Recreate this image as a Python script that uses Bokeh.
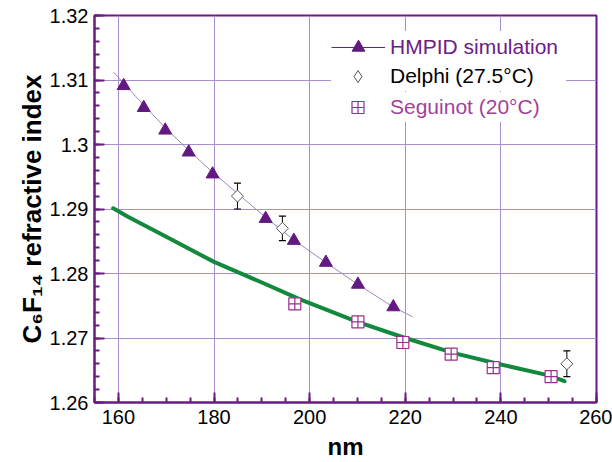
import math
from bokeh.plotting import figure
from bokeh.models import Range1d, FixedTicker, Legend, LegendItem
from bokeh.embed import file_html
from bokeh.resources import INLINE

# ---------------- data ----------------
# HMPID simulation (triangles) and the thin fitted curve through them
hmpid_nm = [161.1, 165.3, 169.8, 174.7, 179.7, 190.8, 196.7, 203.4, 210.1, 217.5]
hmpid_n = [1.3091, 1.3057, 1.3022, 1.2988, 1.2954, 1.2885, 1.2851, 1.2817, 1.2783, 1.2748]
hmpid_fit_nm = [159.0, 161.1, 165.3, 169.8, 174.7, 179.7, 190.8, 196.7, 203.4, 210.1, 217.5, 221.5]
hmpid_fit_n = [1.3112, 1.3095, 1.3061, 1.3026, 1.2991, 1.2957, 1.2887, 1.2852, 1.2817, 1.2783, 1.2748, 1.2733]

# Delphi (27.5 C) with error bars
delphi_nm = [184.9, 194.3, 253.8]
delphi_n = [1.2920, 1.2870, 1.2660]
delphi_err = [0.0020, 0.0019, 0.0020]

# Seguinot (20 C)
seguinot_nm = [196.9, 210.1, 219.5, 229.6, 238.4, 250.5]
seguinot_n = [1.2753, 1.2725, 1.2693, 1.2675, 1.2654, 1.2640]

# thick green curve
green_nm = [158.9, 162.0, 170.0, 180.0, 190.0, 198.0, 210.0, 220.0, 230.0, 240.0, 250.0, 253.3]
green_n = [1.2901, 1.2888, 1.2857, 1.2818, 1.2786, 1.2760, 1.2725, 1.2700, 1.2677, 1.2659, 1.2642, 1.2633]

# axes
x_ticks = [160, 180, 200, 220, 240, 260]
x_minor = [155 + 5 * i for i in range(22)]
y_ticks = [1.26, 1.27, 1.28, 1.29, 1.30, 1.31, 1.32]
y_labels = ["1.26", "1.27", "1.28", "1.29", "1.3", "1.31", "1.32"]
y_minor = [round(1.26 + 0.002 * i, 3) for i in range(31)]

# ---------------- style ----------------
FONT = "Liberation Sans"
AXIS_PURPLE = "#6a1b80"
GRID_PURPLE = "#a68fcb"
TRI_PURPLE = "#621a80"
FIT_PURPLE = "#a584c6"
LEG_PURPLE = "#6b2088"
SEG_MAGENTA = "#9c2e8c"
SEG_TEXT = "#a33f9c"
GREEN = "#12893c"
NAN = float("nan")

p = figure(width=612, height=462, output_backend="svg", toolbar_location=None,
           x_range=Range1d(155, 260), y_range=Range1d(1.26, 1.32),
           min_border_left=94, min_border_right=16, min_border_top=15, min_border_bottom=57)
p.background_fill_color = "white"
p.border_fill_color = "white"
p.outline_line_color = AXIS_PURPLE
p.outline_line_width = 2

# axes
for ax in (p.xaxis[0], p.yaxis[0]):
    ax.axis_line_color = AXIS_PURPLE
    ax.axis_line_width = 2
    ax.major_tick_line_color = AXIS_PURPLE
    ax.major_tick_line_width = 2
    ax.minor_tick_line_color = AXIS_PURPLE
    ax.minor_tick_line_width = 2
    ax.major_tick_in = 10
    ax.major_tick_out = 0
    ax.minor_tick_in = 5
    ax.minor_tick_out = 0
    ax.major_label_text_font = FONT
    ax.major_label_text_font_size = "20px"
    ax.major_label_text_color = "black"
    ax.axis_label_text_font = FONT
    ax.axis_label_text_font_style = "bold"
    ax.axis_label_text_color = "black"

p.xaxis.ticker = FixedTicker(ticks=x_ticks, minor_ticks=x_minor)
p.yaxis.ticker = FixedTicker(ticks=y_ticks, minor_ticks=y_minor)
p.yaxis.major_label_overrides = {t: l for t, l in zip(y_ticks, y_labels)}
p.xaxis.major_label_standoff = 7
p.yaxis.major_label_standoff = 6
p.xaxis.axis_label = "nm"
p.xaxis.axis_label_text_font_size = "24px"
p.xaxis.axis_label_standoff = 6
p.yaxis.axis_label = "C\u2086F\u2081\u2084 refractive index"
p.yaxis.axis_label_text_font_size = "26px"
p.yaxis.axis_label_standoff = 0

p.xgrid.ticker = FixedTicker(ticks=x_ticks)
p.ygrid.ticker = FixedTicker(ticks=y_ticks)
p.xgrid.grid_line_color = GRID_PURPLE
p.ygrid.grid_line_color = GRID_PURPLE
p.xgrid.grid_line_width = 1
p.ygrid.grid_line_width = 1

# ---------------- glyphs ----------------
p.line(green_nm, green_n, line_color=GREEN, line_width=4, line_join="round", line_cap="round")
p.line(hmpid_fit_nm, hmpid_fit_n, line_color=FIT_PURPLE, line_width=1)
tri = p.scatter(hmpid_nm, hmpid_n, marker="triangle", size=13,
                fill_color=TRI_PURPLE, line_color=TRI_PURPLE)

lo = [n - e for n, e in zip(delphi_n, delphi_err)]
hi = [n + e for n, e in zip(delphi_n, delphi_err)]
p.segment(delphi_nm, lo, delphi_nm, hi, line_color="black", line_width=1)
p.scatter(delphi_nm, lo, marker="dash", size=7, line_color="black", line_width=1.2)
p.scatter(delphi_nm, hi, marker="dash", size=7, line_color="black", line_width=1.2)
dia = p.scatter(delphi_nm, delphi_n, marker="square", angle=math.pi / 4, size=8.5,
                fill_color="white", line_color="#555555", line_width=1)

sq = p.scatter(seguinot_nm, seguinot_n, marker="square_cross", size=12,
               fill_color="white", line_color=SEG_MAGENTA, line_width=1.2)

# legend key helpers (nothing drawn in the plot area: NaN coordinates)
leg_line = p.line(x=[NAN, NAN], y=[NAN, NAN], line_color=LEG_PURPLE, line_width=1)
leg_dia = p.scatter(x=[NAN], y=[NAN], marker="diamond", size=12,
                    fill_color="white", line_color="#555555", line_width=1)

common = dict(background_fill_color="white", background_fill_alpha=1.0,
              border_line_color=None, margin=0, label_text_font=FONT,
              label_text_font_size="21px", label_height=10)

L1 = Legend(items=[LegendItem(label="HMPID simulation", renderers=[leg_line, tri])],
            location=(237, 339), padding=4, glyph_width=54, glyph_height=32,
            label_standoff=5, label_width=176, label_text_color=LEG_PURPLE, **common)
L3 = Legend(items=[LegendItem(label="Seguinot (20\u00b0C)", renderers=[sq])],
            location=(244, 280), padding=11, glyph_width=39, glyph_height=30,
            label_standoff=13, label_width=169, label_text_color=SEG_TEXT, **common)
L2 = Legend(items=[LegendItem(label="Delphi (27.5\u00b0C)", renderers=[leg_dia])],
            location=(237, 311), padding=4, glyph_width=53, glyph_height=30,
            label_standoff=6, label_width=176, label_text_color="black", **common)
p.add_layout(L1, "center")
p.add_layout(L3, "center")
p.add_layout(L2, "center")

open("out.html", "w").write(file_html(p, INLINE))
